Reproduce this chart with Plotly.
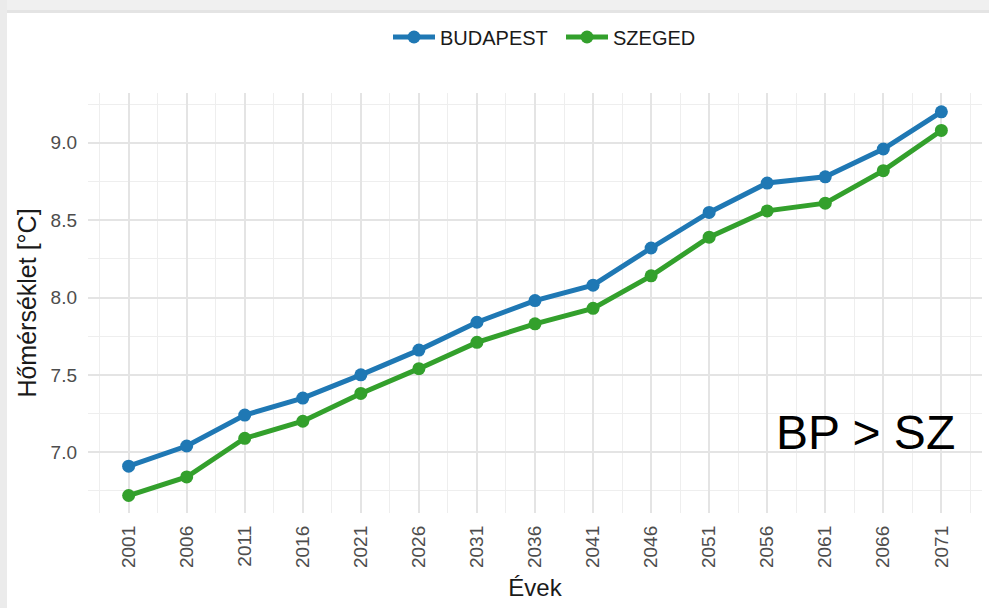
import plotly.graph_objects as go

years = [2001, 2006, 2011, 2016, 2021, 2026, 2031, 2036, 2041, 2046, 2051, 2056, 2061, 2066, 2071]
budapest = [6.91, 7.04, 7.24, 7.35, 7.50, 7.66, 7.84, 7.98, 8.08, 8.32, 8.55, 8.74, 8.78, 8.96, 9.20]
szeged = [6.72, 6.84, 7.09, 7.20, 7.38, 7.54, 7.71, 7.83, 7.93, 8.14, 8.39, 8.56, 8.61, 8.82, 9.08]
series_names = ["BUDAPEST", "SZEGED"]
colors = ["#1f78b4", "#33a02c"]
y_ticks = [7.0, 7.5, 8.0, 8.5, 9.0]

FONT = "Liberation Sans, Arial, sans-serif"
W, H = 989, 608
ML, MR, MT, MB = 88, 7, 93, 95
PW = W - ML - MR
PH = H - MT - MB


def px_x(x):
    return (x - ML) / PW


def px_y(y):
    return (H - MB - y) / PH


fig = go.Figure()
for name, vals, col in zip(series_names, [budapest, szeged], colors):
    fig.add_trace(go.Scatter(
        x=years, y=vals, name=name, mode="lines+markers",
        line=dict(color=col, width=5),
        marker=dict(color=col, size=13),
    ))

grid_major = "#e4e4e4"
grid_minor = "#eeeeee"

fig.update_layout(
    width=W, height=H,
    margin=dict(l=ML, r=MR, t=MT, b=MB, autoexpand=False),
    paper_bgcolor="white", plot_bgcolor="white",
    font=dict(family=FONT, color="#000000"),
    showlegend=True,
    legend=dict(orientation="h", x=px_x(388), xanchor="left", y=px_y(37), yanchor="middle",
                font=dict(size=20, color="#1a1a1a"), itemwidth=42, traceorder="normal",
                entrywidth=116, entrywidthmode="pixels"),
    xaxis=dict(
        range=[1997.5, 2074.5], tickmode="array", tickvals=years,
        ticktext=[str(y) for y in years], tickangle=-90,
        tickfont=dict(size=19, color="#4d4d4d", family=FONT),
        showgrid=True, gridcolor=grid_major, gridwidth=1.6,
        zeroline=False, showline=False, ticks="", ticklabelstandoff=8,
        automargin=False,
        minor=dict(tickmode="array", tickvals=[y - 2.5 for y in years] + [2073.5],
                   showgrid=True, gridcolor=grid_minor, gridwidth=0.8, ticks=""),
        title=dict(text="Évek", font=dict(size=24, color="#1a1a1a", family=FONT), standoff=12),
    ),
    yaxis=dict(
        range=[6.607, 9.322], tickmode="array", tickvals=y_ticks,
        ticktext=[f"{v:.1f}" for v in y_ticks],
        tickfont=dict(size=19, color="#4d4d4d", family=FONT),
        showgrid=True, gridcolor=grid_major, gridwidth=1.6,
        zeroline=False, showline=False, ticks="", ticklabelstandoff=10,
        automargin=False,
        minor=dict(tickmode="array", tickvals=[6.75, 7.25, 7.75, 8.25, 8.75, 9.25],
                   showgrid=True, gridcolor=grid_minor, gridwidth=0.8, ticks=""),
        title=dict(text="Hőmérséklet [°C]", font=dict(size=25, color="#1a1a1a", family=FONT), standoff=6),
    ),
)

fig.add_annotation(
    text="BP > SZ", xref="paper", yref="paper",
    x=px_x(957), y=px_y(432), xanchor="right", yanchor="middle",
    showarrow=False, font=dict(size=48, color="#000000", family=FONT),
)

# screenshot frame (gray bands at top and left)
fig.add_shape(type="rect", xref="paper", yref="paper",
              x0=px_x(0), x1=px_x(W), y0=px_y(0), y1=px_y(13),
              fillcolor="#f0f0f0", line_width=0, layer="below")
fig.add_shape(type="rect", xref="paper", yref="paper",
              x0=px_x(0), x1=px_x(W), y0=px_y(10), y1=px_y(13),
              fillcolor="#e4e4e4", line_width=0, layer="below")
fig.add_shape(type="rect", xref="paper", yref="paper",
              x0=px_x(0), x1=px_x(7), y0=px_y(0), y1=px_y(H),
              fillcolor="#ebebeb", line_width=0, layer="below")

fig.write_html(
    "out.html",
    config={"displayModeBar": False},
    post_script="document.body.style.margin='0';document.body.style.overflow='hidden';",
)
